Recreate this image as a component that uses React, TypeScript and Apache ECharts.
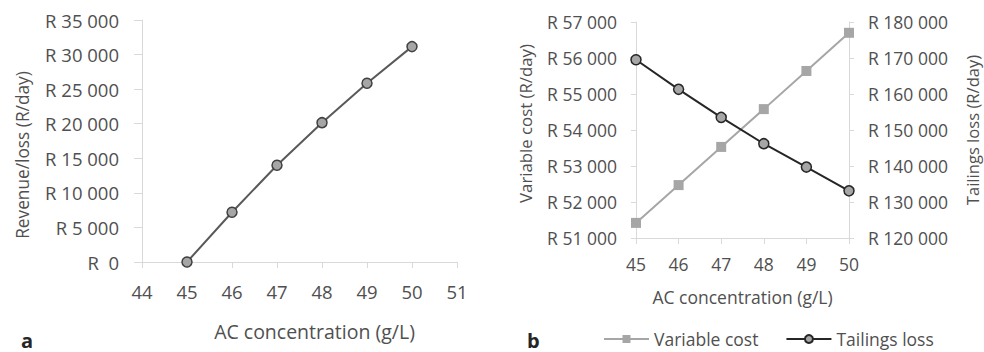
import React, { useEffect, useRef } from "react";
import * as echarts from "echarts";

const xValues = [45, 46, 47, 48, 49, 50];
const revenue = [0, 7200, 14000, 20150, 25850, 31150];
const variableCost = [51420, 52470, 53530, 54580, 55640, 56700];
const tailingsLoss = [169500, 161300, 153500, 146200, 139700, 133100];

const FONT = "Open Sans";
const TEXT = "#505050";
const AXIS = "#d9d9d9";

const fmtRand = (v: number) => {
  if (v === 0) return "R  0";
  return "R " + String(Math.round(v)).replace(/\B(?=(\d{3})+(?!\d))/g, " ");
};

export default function App() {
  const ref = useRef<HTMLDivElement>(null);
  useEffect(() => {
    document.body.style.margin = "0";
    if (!ref.current) return;
    const chart = echarts.init(ref.current, undefined, { renderer: "svg" });
    const axisCommon = (fs: number, margin: number) => ({
      axisLine: { show: true, lineStyle: { color: AXIS, width: 1 } },
      axisTick: { show: true, lineStyle: { color: AXIS, width: 1 } },
      splitLine: { show: false },
      axisLabel: { color: TEXT, fontFamily: FONT, fontSize: fs, margin },
      nameTextStyle: { color: TEXT, fontFamily: FONT, fontSize: fs },
    });
    chart.setOption({
      animation: false,
      backgroundColor: "#ffffff",
      textStyle: { fontFamily: FONT },
      grid: [
        { left: 142, top: 20, width: 315, height: 242, containLabel: false },
        { left: 636, top: 22, width: 213, height: 216, containLabel: false },
      ],
      xAxis: [
        {
          type: "value",
          gridIndex: 0,
          min: 44,
          max: 51,
          interval: 1,
          ...axisCommon(18.5, 20),
          axisTick: { show: true, length: 6, lineStyle: { color: AXIS } },
          name: "AC concentration (g/L)",
          nameLocation: "middle",
          nameGap: 59,
          nameTextStyle: { color: TEXT, fontFamily: FONT, fontSize: 19.5, padding: [0, 0, 0, 30] },
        },
        {
          type: "value",
          gridIndex: 1,
          min: 45,
          max: 50,
          interval: 1,
          ...axisCommon(17.5, 17),
          axisTick: { show: true, length: 6, lineStyle: { color: AXIS } },
          name: "AC concentration (g/L)",
          nameLocation: "middle",
          nameGap: 50,
        },
      ],
      yAxis: [
        {
          type: "value",
          gridIndex: 0,
          min: 0,
          max: 35000,
          interval: 5000,
          ...axisCommon(18.5, 23),
          axisTick: { show: true, length: 8, lineStyle: { color: AXIS } },
          axisLabel: { color: TEXT, fontFamily: FONT, fontSize: 18.5, margin: 23, formatter: fmtRand },
        },
        {
          type: "value",
          gridIndex: 1,
          position: "left",
          min: 51000,
          max: 57000,
          interval: 1000,
          ...axisCommon(17.5, 19),
          axisTick: { show: true, length: 5, lineStyle: { color: AXIS } },
          axisLabel: { color: TEXT, fontFamily: FONT, fontSize: 17.5, margin: 19, formatter: fmtRand },
          name: "Variable cost (R/day)",
          nameLocation: "middle",
          nameRotate: 90,
          nameGap: 102,
          nameTextStyle: { color: TEXT, fontFamily: FONT, fontSize: 16.8, padding: [0, 0, 0, 13] },
        },
        {
          type: "value",
          gridIndex: 1,
          position: "right",
          min: 120000,
          max: 180000,
          interval: 10000,
          ...axisCommon(17.5, 19),
          axisTick: { show: true, length: 5, lineStyle: { color: AXIS } },
          axisLabel: { color: TEXT, fontFamily: FONT, fontSize: 17.5, margin: 19, formatter: fmtRand },
          name: "Tailings loss (R/day)",
          nameLocation: "middle",
          nameRotate: 90,
          nameGap: 115,
          nameTextStyle: { color: TEXT, fontFamily: FONT, fontSize: 16.6 },
        },
      ],
      legend: {
        data: ["Variable cost", "Tailings loss"],
        left: 598,
        top: 325,
        itemWidth: 45,
        itemHeight: 10,
        itemGap: 27,
        textStyle: { color: TEXT, fontFamily: FONT, fontSize: 17.5, padding: [0, 0, 0, 0] },
      },
      graphic: [
        {
          type: "text",
          x: 22,
          y: 155,
          rotation: Math.PI / 2,
          style: {
            text: "Revenue/loss (R/day)",
            fontFamily: FONT,
            fontSize: 17.3,
            fill: TEXT,
            align: "center",
            verticalAlign: "middle",
          },
        },
        { type: "text", left: 21, top: 330, style: { text: "a", fontFamily: FONT, fontSize: 20, fontWeight: "bold", fill: "#262626" } },
        { type: "text", left: 527, top: 330, style: { text: "b", fontFamily: FONT, fontSize: 20, fontWeight: "bold", fill: "#262626" } },
      ],
      series: [
        {
          name: "Revenue",
          type: "line",
          xAxisIndex: 0,
          yAxisIndex: 0,
          data: xValues.map((x, i) => [x, revenue[i]]),
          symbol: "circle",
          symbolSize: 10,
          lineStyle: { color: "#595959", width: 2 },
          itemStyle: { color: "#a6a6a6", borderColor: "#404040", borderWidth: 1.5 },
        },
        {
          name: "Variable cost",
          type: "line",
          xAxisIndex: 1,
          yAxisIndex: 1,
          data: xValues.map((x, i) => [x, variableCost[i]]),
          symbol: "rect",
          symbolSize: 10,
          lineStyle: { color: "#a6a6a6", width: 2 },
          itemStyle: { color: "#a6a6a6" },
        },
        {
          name: "Tailings loss",
          type: "line",
          xAxisIndex: 1,
          yAxisIndex: 2,
          data: xValues.map((x, i) => [x, tailingsLoss[i]]),
          symbol: "circle",
          symbolSize: 10,
          lineStyle: { color: "#262626", width: 2 },
          itemStyle: { color: "#a6a6a6", borderColor: "#262626", borderWidth: 1.5 },
        },
      ],
    });
    return () => chart.dispose();
  }, []);
  return (
    <div
      ref={ref}
      style={{ position: "absolute", left: 0, top: 0, width: 984, height: 352 }}
    />
  );
}
